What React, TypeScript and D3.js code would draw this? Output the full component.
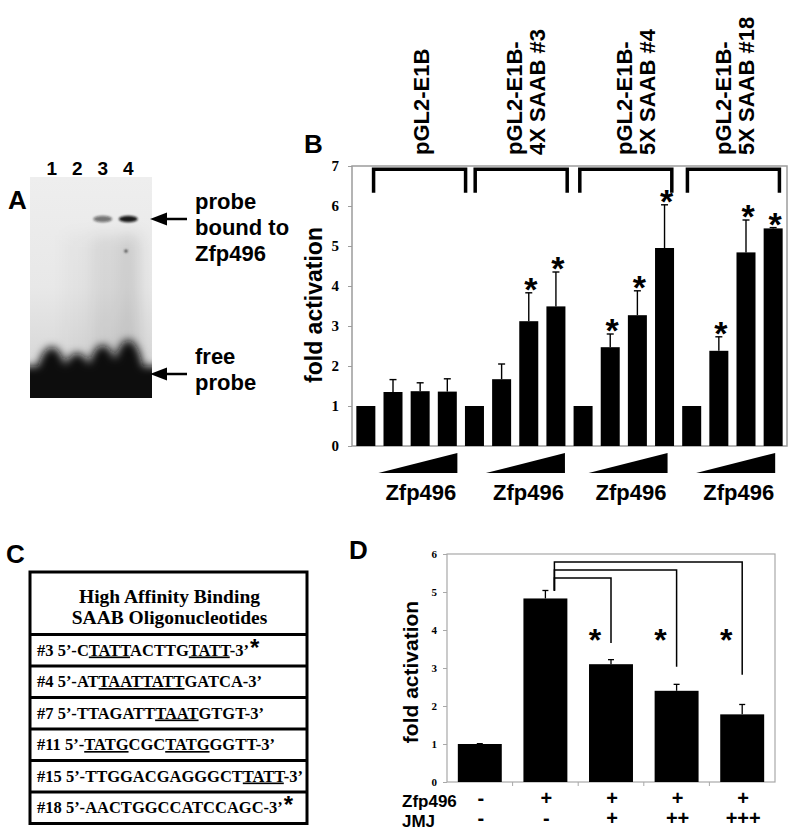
import React, { useEffect, useRef } from "react";
import * as d3 from "d3";

// panel A - gel shift
const laneNumbers = ["1", "2", "3", "4"];
const boundSignal = [0, 0, 0.55, 0.95];
const smearSignal = [0, 0.03, 0.09, 0.13];
const boundText = ["probe", "bound to", "Zfp496"];
const freeText = ["free", "probe"];

// panel B - reporter assays
const constructLabels = [
  ["pGL2-E1B"],
  ["pGL2-E1B-", "4X SAAB #3"],
  ["pGL2-E1B-", "5X SAAB #4"],
  ["pGL2-E1B-", "5X SAAB #18"],
];
const doseLabel = "Zfp496";
const foldB = [1, 1.35, 1.37, 1.36, 1, 1.67, 3.12, 3.49, 1, 2.47, 3.27, 4.95, 1, 2.38, 4.84, 5.44];
const sdB = [0, 0.31, 0.21, 0.32, 0, 0.38, 0.71, 0.86, 0, 0.33, 0.61, 1.08, 0, 0.35, 0.81, 0.02];
const sigB = [false, false, false, false, false, false, true, true, false, true, true, true, false, true, true, true];
const ticksB = [0, 1, 2, 3, 4, 5, 6, 7];

// panel C - oligo table
const tableHeader = ["High Affinity Binding", "SAAB Oligonucleotides"];
const oligoIds = ["#3", "#4", "#7", "#11", "#15", "#18"];
const oligoSeqs = [
  "C[TATT]ACTTG[TATT]",
  "AT[TAATTATT]GATCA",
  "TTAGATT[TAAT]GTGT",
  "[TATG]CGC[TATG]GGTT",
  "TTGGACGAGGGCT[TATT]",
  "AACTGGCCATCCAGC",
];
const oligoStar = [true, false, false, false, false, true];

// panel D - JMJ repression
const zfpRow = ["-", "+", "+", "+", "+"];
const jmjRow = ["-", "-", "+", "++", "+++"];
const foldD = [1, 4.83, 3.1, 2.4, 1.78];
const sdD = [0.01, 0.21, 0.12, 0.17, 0.26];
const ticksD = [0, 1, 2, 3, 4, 5, 6];
const compTo = [2, 3, 4];
const compLevel = [5.37, 5.58, 5.79];
const compDrop = [3.66, 3.03, 2.82];

const sans = "'Liberation Sans', Arial, sans-serif";
const serif = "'Liberation Serif', 'Times New Roman', serif";

const App = () => {
  const ref = useRef<SVGSVGElement>(null);

  useEffect(() => {
    const svg = d3.select(ref.current);
    svg.selectAll("*").remove();
    const defs = svg.append("defs");

    // panel letters
    [["A", 8, 209], ["B", 304, 153], ["C", 6, 563], ["D", 349, 559]].forEach(([t, x, y]) => {
      svg.append("text").attr("x", x).attr("y", y).text(t as string)
        .attr("font-family", sans).attr("font-weight", "bold").attr("font-size", 26);
    });

    // ---------- A: gel
    const gel = { x: 30, y: 177, w: 122, h: 221 };
    defs.append("clipPath").attr("id", "gelClip").append("rect")
      .attr("x", gel.x).attr("y", gel.y).attr("width", gel.w).attr("height", gel.h);
    const grad = defs.append("linearGradient").attr("id", "gelBg").attr("x1", 0).attr("x2", 0).attr("y1", 0).attr("y2", 1);
    grad.append("stop").attr("offset", 0).attr("stop-color", "#eeeeee");
    grad.append("stop").attr("offset", 0.5).attr("stop-color", "#e8e8e8");
    grad.append("stop").attr("offset", 0.75).attr("stop-color", "#dcdcdc");
    grad.append("stop").attr("offset", 1).attr("stop-color", "#cfcfcf");
    [["b1", 1.2], ["b4", 4.5], ["b8", 8]].forEach(([id, s]) => {
      defs.append("filter").attr("id", id as string).attr("x", "-50%").attr("y", "-50%").attr("width", "200%").attr("height", "200%")
        .append("feGaussianBlur").attr("stdDeviation", s as number);
    });

    const lane = d3.scaleBand().domain(laneNumbers).range([39, 141]);
    const lc = (l: string) => (lane(l) as number) + lane.bandwidth() / 2;
    const gA = svg.append("g").attr("clip-path", "url(#gelClip)");
    gA.append("rect").attr("x", gel.x).attr("y", gel.y).attr("width", gel.w).attr("height", gel.h).attr("fill", "url(#gelBg)");

    const smear = gA.append("g").attr("filter", "url(#b8)");
    laneNumbers.forEach((l, i) => {
      smear.append("rect").attr("x", lc(l) - 11).attr("y", 235).attr("width", 22).attr("height", 125)
        .attr("fill", "#000").attr("opacity", smearSignal[i]);
    });

    const free = gA.append("g").attr("filter", "url(#b4)");
    free.append("rect").attr("x", gel.x - 10).attr("y", 366).attr("width", gel.w + 20).attr("height", 45).attr("fill", "#0a0a0a");
    const blobTop = [347, 353, 345, 340];
    laneNumbers.forEach((l, i) => {
      free.append("ellipse").attr("cx", lc(l)).attr("cy", 392).attr("rx", 17).attr("ry", 392 - blobTop[i]).attr("fill", "#0a0a0a");
    });

    const bands = gA.append("g").attr("filter", "url(#b1)");
    laneNumbers.forEach((l, i) => {
      if (boundSignal[i] <= 0) return;
      bands.append("ellipse").attr("cx", lc(l)).attr("cy", 219).attr("rx", 9.5).attr("ry", 3.2)
        .attr("fill", "#111").attr("opacity", boundSignal[i]);
    });
    bands.append("circle").attr("cx", 126).attr("cy", 251).attr("r", 1.6).attr("fill", "#333");

    svg.append("g").selectAll("text").data(laneNumbers).join("text")
      .attr("x", (d) => lc(d)).attr("y", 175).attr("text-anchor", "middle").text((d) => d)
      .attr("font-family", sans).attr("font-weight", "bold").attr("font-size", 19);

    const arrow = (y: number) => {
      svg.append("path").attr("d", `M150,${y}L167,${y - 6.5}L167,${y + 6.5}Z`).attr("fill", "#000");
      svg.append("line").attr("x1", 166).attr("x2", 187).attr("y1", y).attr("y2", y).attr("stroke", "#000").attr("stroke-width", 2.5);
    };
    arrow(219);
    arrow(374);
    const labelA = (lines: string[], y0: number) =>
      lines.forEach((t, i) => {
        svg.append("text").attr("x", 195).attr("y", y0 + i * 26).text(t)
          .attr("font-family", sans).attr("font-weight", "bold").attr("font-size", 22);
      });
    labelA(boundText, 209);
    labelA(freeText, 364);

    // ---------- B
    const xB = d3.scaleBand<number>().domain(d3.range(foldB.length)).range([352, 787]).paddingInner(0.3).paddingOuter(0.16);
    const yB = d3.scaleLinear().domain([0, 7]).range([446, 166]);
    const bwB = xB.bandwidth();
    const gB = svg.append("g");
    gB.append("rect").attr("x", 352).attr("y", yB(7)).attr("width", 435).attr("height", yB(0) - yB(7))
      .attr("fill", "none").attr("stroke", "#9c9c9c").attr("stroke-width", 1.5);
    const axB = gB.append("g").attr("transform", "translate(352,0)")
      .call(d3.axisLeft(yB).tickValues(ticksB).tickSize(4).tickPadding(9).tickFormat(d3.format("d")));
    axB.select(".domain").remove();
    axB.selectAll("line").attr("stroke", "#9c9c9c");
    axB.selectAll("text").attr("font-family", serif).attr("font-weight", "bold").attr("font-size", 15).attr("fill", "#000");

    gB.selectAll("rect.bar").data(foldB).join("rect").attr("class", "bar")
      .attr("x", (_, i) => xB(i) as number).attr("y", (d) => yB(d))
      .attr("width", bwB).attr("height", (d) => yB(0) - yB(d)).attr("fill", "#000");

    foldB.forEach((v, i) => {
      const cx = (xB(i) as number) + bwB / 2;
      const top = yB(v + sdB[i]);
      if (sdB[i] > 0) {
        gB.append("line").attr("x1", cx).attr("x2", cx).attr("y1", yB(v)).attr("y2", top).attr("stroke", "#000").attr("stroke-width", 1.4);
        gB.append("line").attr("x1", cx - 3.5).attr("x2", cx + 3.5).attr("y1", top).attr("y2", top).attr("stroke", "#000").attr("stroke-width", 1.4);
      }
      if (sigB[i]) {
        gB.append("text").attr("x", cx + 2).attr("y", top + 8).attr("text-anchor", "middle").text("*")
          .attr("font-family", sans).attr("font-weight", "bold").attr("font-size", 34);
      }
    });

    const bracketShift = [13, 6, 2, 1];
    const labelShift = [15, 11, 12, 3];
    const wedgeShift = [0, -1, -7, -8];
    constructLabels.forEach((lines, g) => {
      const x0 = xB(g * 4) as number;
      const x1 = (xB(g * 4 + 3) as number) + bwB;
      const gc = (x0 + x1) / 2;
      const bc = gc + bracketShift[g];
      gB.append("path").attr("d", `M${bc - 46},${yB(6.33)}V${yB(6.92)}H${bc + 46}V${yB(6.33)}`)
        .attr("fill", "none").attr("stroke", "#000").attr("stroke-width", 3.5);
      const lc0 = gc + labelShift[g];
      lines.forEach((t, k) => {
        const cx = lc0 + (k - (lines.length - 1) / 2) * 23 + 7.5;
        gB.append("text").attr("transform", `translate(${cx},155) rotate(-90)`).text(t)
          .attr("font-family", sans).attr("font-weight", "bold").attr("font-size", 22);
      });
      const wl = x0 + 22 + wedgeShift[g];
      const wr = wl + 79;
      gB.append("path").attr("d", `M${wl},${yB(0) + 27}L${wr},${yB(0) + 27}L${wr},${yB(0) + 7}Z`).attr("fill", "#000");
      gB.append("text").attr("x", (wl + wr) / 2 + 3).attr("y", yB(0) + 54).attr("text-anchor", "middle").text(doseLabel)
        .attr("font-family", sans).attr("font-weight", "bold").attr("font-size", 22);
    });
    gB.append("text").attr("transform", `translate(322,305) rotate(-90)`).attr("text-anchor", "middle").text("fold activation")
      .attr("font-family", sans).attr("font-weight", "bold").attr("font-size", 23);

    // ---------- C: table
    const gC = svg.append("g");
    const tx0 = 30, tx1 = 307, ty0 = 572, headH = 62.5, rowH = 31.5;
    const rowY = (i: number) => ty0 + headH + i * rowH;
    gC.append("rect").attr("x", tx0).attr("y", ty0).attr("width", tx1 - tx0).attr("height", rowY(oligoIds.length) - ty0)
      .attr("fill", "none").attr("stroke", "#000").attr("stroke-width", 3);
    d3.range(oligoIds.length).forEach((i) => {
      gC.append("line").attr("x1", tx0).attr("x2", tx1).attr("y1", rowY(i)).attr("y2", rowY(i)).attr("stroke", "#000").attr("stroke-width", 3);
    });
    tableHeader.forEach((t, i) => {
      gC.append("text").attr("x", (tx0 + tx1) / 2 + 1).attr("y", 603 + i * 20.5).attr("text-anchor", "middle").text(t)
        .attr("font-family", serif).attr("font-weight", "bold").attr("font-size", 19.5);
    });
    oligoIds.forEach((id, i) => {
      const txt = gC.append("text").attr("x", 37).attr("y", rowY(i) + 21)
        .attr("font-family", serif).attr("font-weight", "bold").attr("font-size", 16.5);
      txt.append("tspan").text(`${id} 5\u2019-`);
      oligoSeqs[i].split(/(\[[A-Z]+\])/).filter((s) => s.length).forEach((seg) => {
        const u = seg.startsWith("[");
        const sp = txt.append("tspan").text(u ? seg.slice(1, -1) : seg);
        if (u) sp.style("text-decoration", "underline");
      });
      txt.append("tspan").text("-3\u2019");
      if (oligoStar[i]) {
        txt.append("tspan").attr("dx", 1).attr("font-family", sans).attr("font-size", 24).text("*");
      }
    });

    // ---------- D
    const xD = d3.scaleBand<number>().domain(d3.range(foldD.length)).range([447, 775]).paddingInner(0.33).paddingOuter(0.165);
    const yD = d3.scaleLinear().domain([0, 6]).range([782, 554]);
    const bwD = xD.bandwidth();
    const cD = (i: number) => (xD(i) as number) + bwD / 2;
    const gD = svg.append("g");
    gD.append("rect").attr("x", 447).attr("y", yD(6)).attr("width", 328).attr("height", yD(0) - yD(6))
      .attr("fill", "none").attr("stroke", "#a8a8a8").attr("stroke-width", 1.2);
    const axD = gD.append("g").attr("transform", "translate(447,0)")
      .call(d3.axisLeft(yD).tickValues(ticksD).tickSize(4).tickPadding(6).tickFormat(d3.format("d")));
    axD.select(".domain").remove();
    axD.selectAll("line").attr("stroke", "#a8a8a8");
    axD.selectAll("text").attr("font-family", serif).attr("font-weight", "bold").attr("font-size", 11).attr("fill", "#000");
    d3.range(1, foldD.length).forEach((i) => {
      const x = (xD(i) as number) - (xD.step() * xD.paddingInner()) / 2;
      gD.append("line").attr("x1", x).attr("x2", x).attr("y1", yD(0)).attr("y2", yD(0) + 4).attr("stroke", "#a8a8a8");
    });

    gD.selectAll("rect.bar").data(foldD).join("rect").attr("class", "bar")
      .attr("x", (_, i) => xD(i) as number).attr("y", (d) => yD(d))
      .attr("width", bwD).attr("height", (d) => yD(0) - yD(d)).attr("fill", "#000");
    foldD.forEach((v, i) => {
      const cx = cD(i);
      const top = yD(v + sdD[i]);
      gD.append("line").attr("x1", cx).attr("x2", cx).attr("y1", yD(v)).attr("y2", top).attr("stroke", "#000").attr("stroke-width", 1.3);
      gD.append("line").attr("x1", cx - 3).attr("x2", cx + 3).attr("y1", top).attr("y2", top).attr("stroke", "#000").attr("stroke-width", 1.3);
    });
    const sx = cD(1) + 9;
    compTo.forEach((t, k) => {
      gD.append("path").attr("d", `M${sx},${yD(foldD[1] + 0.2)}V${yD(compLevel[k])}H${cD(t)}V${yD(compDrop[k])}`)
        .attr("fill", "none").attr("stroke", "#000").attr("stroke-width", 1.5);
      gD.append("text").attr("x", cD(t) - 16).attr("y", yD(3.92) + 18).attr("text-anchor", "middle").text("*")
        .attr("font-family", sans).attr("font-weight", "bold").attr("font-size", 32);
    });

    const rowLab = (name: string, vals: string[], y: number) => {
      gD.append("text").attr("x", 402).attr("y", y).text(name)
        .attr("font-family", sans).attr("font-weight", "bold").attr("font-size", 17);
      vals.forEach((v, i) => {
        gD.append("text").attr("x", cD(i) + 1).attr("y", y - 2).attr("text-anchor", "middle").text(v)
          .attr("font-family", sans).attr("font-weight", "bold").attr("font-size", 20);
      });
    };
    rowLab("Zfp496", zfpRow, 807);
    rowLab("JMJ", jmjRow, 827);
    gD.append("text").attr("transform", `translate(418,672) rotate(-90)`).attr("text-anchor", "middle").text("fold activation")
      .attr("font-family", sans).attr("font-weight", "bold").attr("font-size", 21);
  }, []);

  return (
    <svg
      ref={ref}
      width={800}
      height={832}
      style={{ position: "absolute", left: 0, top: 0, background: "#fff" }}
    ></svg>
  );
};

export default App;
